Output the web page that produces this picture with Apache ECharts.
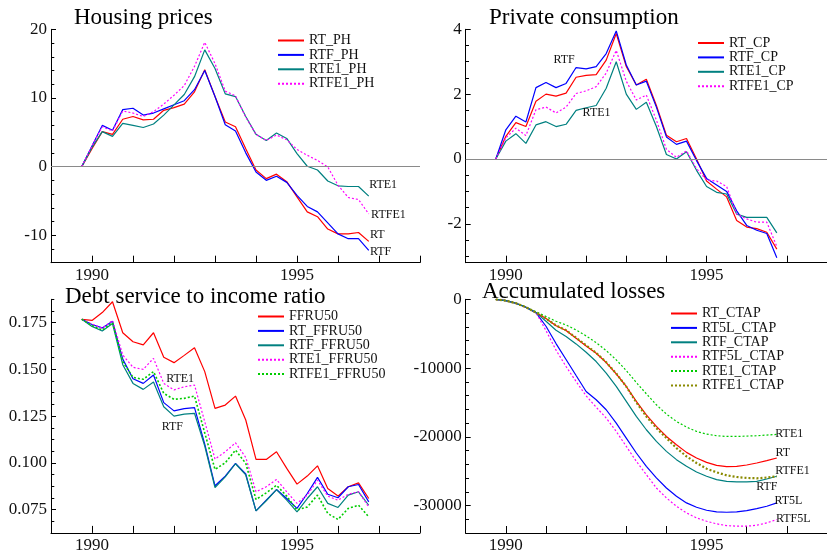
<!DOCTYPE html>
<html>
<head>
<meta charset="utf-8">
<script src="https://cdn.jsdelivr.net/npm/echarts@6/dist/echarts.min.js"></script>
<style>
	html, body { margin: 0; padding: 0; background: #fff; }
	#chart { width: 827px; height: 554px; }
</style>
</head>
<body>
<div id="chart"></div>
<script>

// quarterly dates, 1989Q4 .. 1996Q4
const quarters = [1989.75, 1990, 1990.25, 1990.5, 1990.75, 1991, 1991.25, 1991.5, 1991.75, 1992, 1992.25, 1992.5, 1992.75,
	1993, 1993.25, 1993.5, 1993.75, 1994, 1994.25, 1994.5, 1994.75, 1995, 1995.25, 1995.5, 1995.75, 1996, 1996.25, 1996.5, 1996.75];

// Housing prices
const rtPH = [0, 2.6, 5.1, 4.7, 6.9, 7.3, 6.8, 6.9, 8.2, 8.6, 9.1, 10.9, 14.1, 10.2, 6.5, 5.8, 2.6, -0.5, -1.75, -1.1, -2.2, -4.4, -6.6, -7.3, -9.1, -9.8, -9.8, -9.6, -10.9];
const rtfPH = [0, 3.0, 6.0, 5.3, 8.3, 8.5, 7.5, 7.8, 8.4, 9.0, 9.6, 11.2, 14.0, 10.2, 6.1, 5.2, 2.0, -0.8, -2.0, -1.4, -2.3, -4.2, -5.8, -6.6, -8.2, -9.8, -10.5, -10.5, -12.2];
const rte1PH = [0, 2.8, 5.1, 4.4, 6.3, 6.0, 5.7, 6.2, 7.5, 9.0, 10.5, 13.1, 17.0, 14.3, 10.6, 10.2, 7.3, 4.7, 3.8, 4.9, 4.1, 1.9, 0.05, -0.5, -2.1, -2.8, -2.9, -2.9, -4.3];
const rtfe1PH = [0, 3.0, 5.8, 5.2, 8.1, 7.8, 7.3, 8.0, 9.1, 10.4, 11.8, 14.6, 18.1, 15.0, 11.0, 10.3, 7.2, 4.7, 3.8, 4.6, 3.9, 2.5, 1.65, 0.9, -0.05, -2.7, -4.5, -4.8, -6.9];

// Private consumption
const rtCP = [0, 0.7, 1.12, 1.0, 1.78, 2.0, 1.94, 2.03, 2.52, 2.58, 2.6, 3.05, 3.87, 2.85, 2.28, 2.46, 1.65, 0.73, 0.53, 0.63, 0.0, -0.68, -0.93, -1.17, -1.9, -2.1, -2.15, -2.26, -2.78];
const rtfCP = [0, 0.9, 1.32, 1.14, 2.2, 2.36, 2.2, 2.33, 2.82, 2.78, 2.85, 3.25, 3.95, 2.9, 2.28, 2.4, 1.6, 0.68, 0.45, 0.55, -0.05, -0.6, -0.8, -1.0, -1.6, -2.05, -2.2, -2.3, -3.05];
const rte1CP = [0, 0.55, 0.78, 0.48, 1.05, 1.15, 1.0, 1.07, 1.5, 1.58, 1.65, 2.18, 3.0, 2.0, 1.53, 1.75, 1.0, 0.14, 0.0, 0.22, -0.35, -0.85, -1.03, -1.08, -1.7, -1.8, -1.8, -1.8, -2.28];
const rtfe1CP = [0, 0.65, 0.95, 0.72, 1.52, 1.6, 1.42, 1.6, 2.02, 2.1, 2.23, 2.65, 3.35, 2.4, 1.82, 1.97, 1.2, 0.3, 0.05, 0.25, -0.3, -0.65, -0.68, -0.85, -1.7, -1.85, -1.95, -1.95, -2.7];

// Debt service to income ratio
const ffru50 = [0.1768, 0.1762, 0.1804, 0.1862, 0.1696, 0.1648, 0.1631, 0.1696, 0.1565, 0.1536, 0.1575, 0.1616, 0.1488, 0.1291, 0.1309, 0.1357, 0.1229, 0.1018, 0.1018, 0.1059, 0.0970, 0.0886, 0.0929, 0.0984, 0.0863, 0.0822, 0.0872, 0.0893, 0.0809];
const rtFFRU50 = [0.1768, 0.1740, 0.1722, 0.1757, 0.1555, 0.1450, 0.1425, 0.1470, 0.1322, 0.1278, 0.1290, 0.1295, 0.1100, 0.0877, 0.0929, 0.0997, 0.0940, 0.0743, 0.0800, 0.0857, 0.0809, 0.0756, 0.0836, 0.0922, 0.0832, 0.0813, 0.0872, 0.0884, 0.0791];
const rtfFFRU50 = [0.1768, 0.1730, 0.1705, 0.1745, 0.1525, 0.1425, 0.1393, 0.1433, 0.1300, 0.1250, 0.1261, 0.1265, 0.1090, 0.0868, 0.0925, 0.0995, 0.0935, 0.0743, 0.0797, 0.0857, 0.0800, 0.0737, 0.0809, 0.0872, 0.0783, 0.0761, 0.0827, 0.0845, 0.0773];
const rte1FFRU50 = [0.1768, 0.1742, 0.1720, 0.1762, 0.1577, 0.1511, 0.1500, 0.1559, 0.1425, 0.1390, 0.1407, 0.1416, 0.1220, 0.1020, 0.1059, 0.1107, 0.1029, 0.0845, 0.0872, 0.0911, 0.0845, 0.0783, 0.0827, 0.0907, 0.0822, 0.0800, 0.0832, 0.0845, 0.0764];
const rtfe1FFRU50 = [0.1768, 0.1735, 0.1710, 0.1750, 0.1541, 0.1457, 0.1447, 0.1488, 0.1372, 0.1340, 0.1345, 0.1357, 0.1160, 0.0965, 0.1000, 0.1068, 0.0997, 0.0804, 0.0839, 0.0880, 0.0822, 0.0747, 0.0764, 0.0827, 0.0729, 0.0697, 0.0756, 0.0773, 0.0711];

// Accumulated losses
const rtCTAP = [0, -200, -580, -1160, -1940, -2800, -3850, -4550, -5665, -6780, -7844, -9200, -10845, -12684, -14860, -16800, -18490, -19950, -21155, -22270, -23090, -23720, -24155, -24350, -24300, -24110, -23815, -23480, -23090];
const rt5lCTAP = [0, -200, -580, -1160, -1940, -3920, -6440, -8760, -11090, -13410, -14620, -16070, -18010, -20190, -22360, -24300, -25990, -27450, -28660, -29620, -30250, -30690, -30930, -30980, -30930, -30740, -30450, -30110, -29620];
const rtfCTAP = [0, -200, -580, -1160, -1940, -3200, -4500, -5424, -6490, -7700, -9054, -10750, -12680, -14860, -17040, -18980, -20670, -22120, -23330, -24300, -25120, -25750, -26230, -26480, -26575, -26575, -26480, -26140, -25750];
const rtf5lCTAP = [0, -200, -580, -1160, -1940, -4550, -7400, -9780, -11960, -14040, -15690, -17280, -19220, -21400, -23570, -25510, -27450, -28900, -30110, -31080, -31800, -32290, -32670, -32920, -33010, -33010, -32870, -32530, -32050];
const rte1CTAP = [0, -200, -560, -1100, -1800, -2500, -3200, -3730, -4460, -5330, -6300, -7460, -8810, -10360, -12100, -13750, -15350, -16700, -17770, -18590, -19220, -19610, -19850, -19950, -19950, -19900, -19850, -19750, -19650];
const rtfe1CTAP = [0, -200, -580, -1160, -1940, -2800, -3800, -4500, -5600, -6700, -7800, -9150, -10800, -12700, -15000, -17040, -18740, -20190, -21640, -22850, -23815, -24640, -25170, -25610, -25850, -25990, -26040, -25940, -25750];

// tick labels
const yearTicks = [1989, 1990, 1991, 1992, 1993, 1994, 1995, 1996, 1997, 1998];
const yearLabels = [1990, 1995];
const phLabels = [-10, 0, 10, 20];
const phMinor = [-14, -12, -10, -8, -6, -4, -2, 0, 2, 4, 6, 8, 10, 12, 14, 16, 18, 20];
const cpLabels = [-2, 0, 2, 4];
const cpMinor = [-3, -2.5, -2, -1.5, -1, -0.5, 0, 0.5, 1, 1.5, 2, 2.5, 3, 3.5, 4];
const dsLabels = [0.075, 0.1, 0.125, 0.15, 0.175];
const dsMinor = [0.0625, 0.06875, 0.075, 0.08125, 0.0875, 0.09375, 0.1, 0.10625, 0.1125, 0.11875, 0.125,
	0.13125, 0.1375, 0.14375, 0.15, 0.15625, 0.1625, 0.16875, 0.175, 0.18125, 0.1875];
const alLabels = [-30000, -20000, -10000, 0];
const alMinor = [-34000, -32000, -30000, -28000, -26000, -24000, -22000, -20000, -18000, -16000, -14000, -12000, -10000, -8000, -6000, -4000, -2000, 0];

// texts written next to the curves: [text, year, value]
const notesPH = [['RTE1', 1997.1, -2.7], ['RTFE1', 1997.23, -7.1], ['RT', 1996.96, -9.9], ['RTF', 1997.04, -12.45]];
const notesCP = [['RTF', 1991.45, 3.06], ['RTE1', 1992.26, 1.41]];
const notesDS = [['RTE1', 1992.15, 0.1448], ['RTF', 1991.96, 0.1193]];
const notesAL = [['RTE1', 1997.06, -19590], ['RT', 1996.9, -22350], ['RTFE1', 1997.14, -24920], ['RTF', 1996.5, -27290], ['RT5L', 1997.04, -29380], ['RTF5L', 1997.16, -31930]];

const FONT = '"Liberation Serif", "DejaVu Serif", serif';

const pair = (values) => quarters.map((q, i) => [q, values[i]]);

const makeLine = (name, values, grid, color, opt = {}) => ({
	name: name,
	type: 'line',
	xAxisIndex: grid,
	yAxisIndex: grid,
	data: pair(values),
	symbol: 'none',
	z: opt.z || 3,
	lineStyle: {
		color: color,
		width: opt.width || 1.2,
		type: opt.type || 'solid',
	},
	itemStyle: { color: color },
});

const notesMark = (notes) => ({
	symbol: 'circle',
	symbolSize: 0,
	silent: true,
	label: {
		show: true,
		position: 'inside',
		formatter: '{b}',
		color: '#111',
		fontSize: 12,
		fontFamily: FONT,
	},
	data: notes.map(n => ({ name: n[0], coord: [n[1], n[2]] })),
});

const zeroLine = {
	silent: true,
	symbol: ['none', 'none'],
	label: { show: false },
	lineStyle: { color: '#8a8a8a', type: 'solid', width: 1 },
	data: [{ yAxis: 0 }],
};

const grids = [
	{ left: 51, top: 29.3, width: 369, height: 233.4 },
	{ left: 465.7, top: 29.3, width: 369, height: 233.4 },
	{ left: 51, top: 299.3, width: 369, height: 233.6 },
	{ left: 465.7, top: 299.3, width: 369, height: 234 },
];

const xAxisFor = (g) => ({
	gridIndex: g,
	type: 'value',
	min: 1989,
	max: 1998,
	axisLine: { onZero: false, lineStyle: { color: '#000', width: 1 } },
	axisTick: { inside: true, length: 7, customValues: yearTicks, lineStyle: { color: '#000' } },
	axisLabel: { customValues: yearLabels, formatter: v => String(v), fontSize: 17, fontFamily: FONT, color: '#111', margin: 4 },
	splitLine: { show: false },
});

const yMajor = (g, min, max, labels, fmt) => ({
	gridIndex: g,
	type: 'value',
	position: 'left',
	min: min,
	max: max,
	axisLine: { show: true, onZero: false, lineStyle: { color: '#000', width: 1 } },
	axisTick: { inside: true, length: 5, customValues: labels, lineStyle: { color: '#000' } },
	axisLabel: { customValues: labels, formatter: fmt, fontSize: 17, fontFamily: FONT, color: '#111', margin: 4 },
	splitLine: { show: false },
});

const yMinor = (g, min, max, ticks) => ({
	gridIndex: g,
	type: 'value',
	position: 'left',
	min: min,
	max: max,
	axisLine: { show: false },
	axisTick: { show: true, inside: true, length: 3.3, customValues: ticks, lineStyle: { color: '#000' } },
	axisLabel: { show: false },
	splitLine: { show: false },
});

const legendFor = (names, left, top) => ({
	data: names,
	left: left,
	top: top,
	orient: 'vertical',
	itemWidth: 26,
	itemHeight: 13,
	itemGap: 0.4,
	padding: 0,
	selectedMode: false,
	itemStyle: { opacity: 0 },
	textStyle: { fontFamily: FONT, fontSize: 14, color: '#111', lineHeight: 13 },
});

const titleFor = (text, left, top) => ({
	text: text,
	left: left,
	top: top,
	padding: 0,
	textStyle: { fontFamily: FONT, fontSize: 23, fontWeight: 'normal', color: '#000' },
});

const RED = '#ff0000', BLUE = '#0000ff', TEAL = '#008080', MAGENTA = '#ff00ff', GREEN = '#00cc00', OLIVE = '#8a8a00';
const DOT = [2, 2];

const seriesPH = [
	Object.assign(makeLine('RT_PH', rtPH, 0, RED), { markLine: zeroLine }),
	makeLine('RTF_PH', rtfPH, 0, BLUE),
	Object.assign(makeLine('RTE1_PH', rte1PH, 0, TEAL), { markPoint: notesMark(notesPH) }),
	makeLine('RTFE1_PH', rtfe1PH, 0, MAGENTA, { type: DOT }),
];

const seriesCP = [
	Object.assign(makeLine('RT_CP', rtCP, 1, RED), { markLine: zeroLine }),
	makeLine('RTF_CP', rtfCP, 1, BLUE),
	Object.assign(makeLine('RTE1_CP', rte1CP, 1, TEAL), { markPoint: notesMark(notesCP) }),
	makeLine('RTFE1_CP', rtfe1CP, 1, MAGENTA, { type: DOT }),
];

const seriesDS = [
	makeLine('FFRU50', ffru50, 2, RED),
	makeLine('RT_FFRU50', rtFFRU50, 2, BLUE),
	Object.assign(makeLine('RTF_FFRU50', rtfFFRU50, 2, TEAL), { markPoint: notesMark(notesDS) }),
	makeLine('RTE1_FFRU50', rte1FFRU50, 2, MAGENTA, { type: DOT }),
	makeLine('RTFE1_FFRU50', rtfe1FFRU50, 2, GREEN, { type: DOT, width: 1.6 }),
];

const seriesAL = [
	Object.assign(makeLine('RT_CTAP', rtCTAP, 3, RED), { markPoint: notesMark(notesAL) }),
	makeLine('RT5L_CTAP', rt5lCTAP, 3, BLUE),
	makeLine('RTF_CTAP', rtfCTAP, 3, TEAL),
	makeLine('RTF5L_CTAP', rtf5lCTAP, 3, MAGENTA, { type: DOT }),
	makeLine('RTE1_CTAP', rte1CTAP, 3, GREEN, { type: DOT }),
	makeLine('RTFE1_CTAP', rtfe1CTAP, 3, OLIVE, { type: DOT, width: 2.2, z: 4 }),
];

const chart = echarts.init(document.getElementById('chart'));
chart.setOption({
	animation: false,
	backgroundColor: '#fff',
	textStyle: { fontFamily: FONT },
	title: [
		titleFor('Housing prices', 74, 6),
		titleFor('Private consumption', 489, 6),
		titleFor('Debt service to income ratio', 65, 285),
		titleFor('Accumulated losses', 482, 280),
	],
	legend: [
		legendFor(seriesPH.map(s => s.name), 277, 33.5),
		legendFor(seriesCP.map(s => s.name), 697, 36),
		legendFor(seriesDS.map(s => s.name), 257, 309.5),
		legendFor(seriesAL.map(s => s.name), 670, 306.5),
	],
	grid: grids,
	xAxis: [xAxisFor(0), xAxisFor(1), xAxisFor(2), xAxisFor(3)],
	yAxis: [
		yMajor(0, -14, 20, phLabels, v => String(v)),
		yMajor(1, -3.2, 4, cpLabels, v => String(v)),
		yMajor(2, 0.0625, 0.1875, dsLabels, v => v.toFixed(3)),
		yMajor(3, -34000, 0, alLabels, v => String(v)),
		yMinor(0, -14, 20, phMinor),
		yMinor(1, -3.2, 4, cpMinor),
		yMinor(2, 0.0625, 0.1875, dsMinor),
		yMinor(3, -34000, 0, alMinor),
	],
	series: [].concat(seriesPH, seriesCP, seriesDS, seriesAL),
});

</script>
</body>
</html>
